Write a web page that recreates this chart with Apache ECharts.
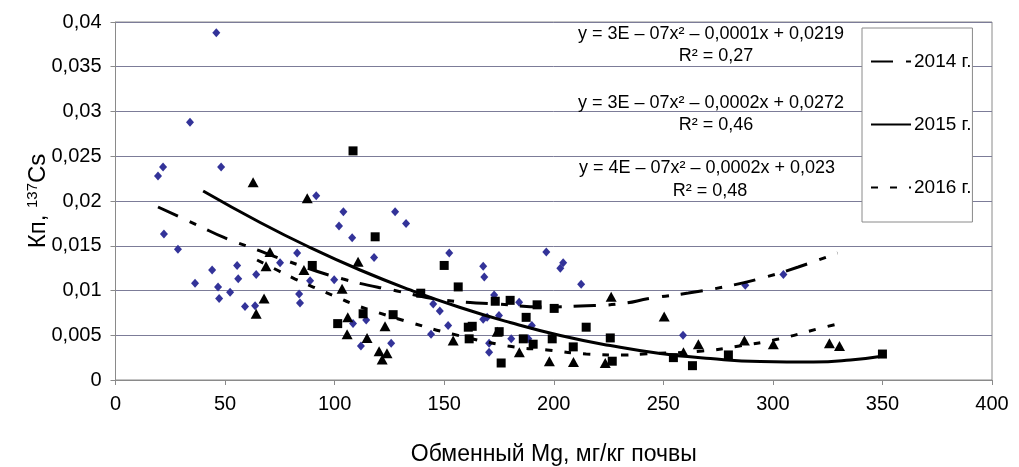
<!DOCTYPE html>
<html><head><meta charset="utf-8">
<script src="https://cdn.jsdelivr.net/npm/echarts@6/dist/echarts.min.js"></script>
<style>html,body{margin:0;padding:0;background:#fff}#c{width:1019px;height:467px}</style>
</head><body><div id="c"></div>
<script>
const years = ['2014 г.', '2015 г.', '2016 г.'];
const xAxisTitle = 'Обменный Mg, мг/кг почвы';
const yAxisTitle = '{a|Кп, }{s|137}{a|Cs}';
const equations = [
  ['y = 3E – 07x² – 0,0001x + 0,0219', 'R² = 0,27'],
  ['y = 3E – 07x² – 0,0002x + 0,0272', 'R² = 0,46'],
  ['y = 4E – 07x² – 0,0002x + 0,023', 'R² = 0,48']
];
// 2014: blue diamonds
const pts2014 = [
  [19.4,0.0228],[21.7,0.0238],[22.1,0.0163],[28.5,0.0146],[34,0.0288],[36.3,0.0108],
  [44.1,0.0123],[46,0.0388],[46.8,0.0104],[47.3,0.0091],[48.2,0.0238],[52.3,0.0098],
  [55.5,0.0128],[56.0,0.0113],[59.1,0.0082],[63.7,0.0083],[64.2,0.0118],[75.1,0.0131],
  [82.9,0.0142],[83.8,0.0096],[84.2,0.0086],[88.8,0.0111],[91.6,0.0206],[99.8,0.0112],
  [102,0.0172],[104,0.0188],[108,0.0159],[108.4,0.0063],[112,0.0038],[114.4,0.0067],
  [118,0.0137],[125.8,0.0041],[127.6,0.0188],[132.6,0.0175],[144,0.0051],[145,0.0085],
  [148,0.0077],[151.8,0.0061],[152.3,0.0142],[167.8,0.0127],[168.3,0.0115],[167.8,0.0068],
  [169.6,0.0070],[170.5,0.0041],[170.5,0.0031],[172.8,0.0095],[175,0.0072],[180.6,0.0046],
  [184.2,0.0087],[188.4,0.0046],[190,0.0061],[196.6,0.0143],[203,0.0125],[204.3,0.0131],
  [212.5,0.0107],[259,0.0050],[287.4,0.0106],[304.8,0.0118]
];
// 2015: black squares
const pts2015 = [
  [89.8,0.0128],[101.4,0.0063],[108.4,0.0256],[113,0.0074],[118.5,0.0160],[126.7,0.0073],
  [139.3,0.0097],[150,0.0128],[156.4,0.0104],[161,0.0059],[162.8,0.0060],[161.4,0.0046],
  [173.3,0.0088],[175.1,0.0054],[176,0.0019],[180.1,0.0089],[186.1,0.0046],[187.4,0.0070],
  [190.6,0.0040],[192.4,0.0084],[199.3,0.0046],[200.2,0.0080],[208.9,0.0037],[214.8,0.0059],
  [225.8,0.0047],[226.7,0.0021],[254.6,0.0025],[263.3,0.0016],[279.7,0.0028],[350,0.0029]
];
// 2016: black triangles
const pts2016 = [
  [62.8,0.0221],[64.2,0.0074],[67.8,0.0091],[68.7,0.0127],[70.5,0.0143],[86,0.0123],
  [87.5,0.0203],[103.4,0.0102],[105.7,0.0051],[106,0.0070],[110.7,0.0132],[114.8,0.0047],
  [120.3,0.0032],[121.7,0.0023],[123,0.0060],[123.9,0.0030],[154.1,0.0044],[174.2,0.0054],
  [184.3,0.0031],[198,0.0021],[209,0.0020],[223.5,0.0019],[226.2,0.0093],[250.4,0.0071],
  [259.2,0.0031],[266,0.0040],[287,0.0044],[300.2,0.0040],[325.8,0.0041],[330.4,0.0038]
];
// trend lines
const trend2014 = [
  [19.4,0.01933],[37.2,0.01732],[50.0,0.01587],[62.3,0.01475],[78.3,0.01330],[103.9,0.01128],
  [128.5,0.00994],[149.5,0.00894],[174.2,0.00849],[196.1,0.00816],[212.1,0.00827],[229.5,0.00849],
  [245.0,0.00916],[261.4,0.00972],[279.7,0.01050],[295.2,0.01140],[311.6,0.01263],[329.5,0.01419]
];
const trend2015 = [
  [40.0,0.02112],[66.0,0.01760],[88.8,0.01480],[111.6,0.01229],[134.5,0.01006],[157.3,0.00810],
  [180.1,0.00642],[203.0,0.00497],[225.8,0.00385],[248.6,0.00296],[271.5,0.00240],[294.3,0.00207],
  [318.5,0.00201],[335.4,0.00223],[350.5,0.00268]
];
const trend2016 = [
  [64.6,0.01341],[73.7,0.01229],[82.0,0.01128],[90.2,0.01039],[99.8,0.00939],[108.4,0.00849],
  [117.6,0.00771],[135.4,0.00637],[153.7,0.00514],[179.2,0.00380],[197.0,0.00335],[214.8,0.00291],
  [232.2,0.00279],[240.9,0.00291],[267.8,0.00324],[284.7,0.00380],[302.5,0.00458],[320.3,0.00570],
  [329.5,0.00626]
];

const FONT = 'Liberation Sans, Arial, sans-serif';
const chart = echarts.init(document.getElementById('c'), null, {renderer: 'canvas'});

const eqPos = [[711, 34, 716, 56], [711, 103, 716, 125], [707, 168, 710, 191]];
const graphics = [];
equations.forEach((e, i) => {
  const p = eqPos[i];
  graphics.push({type: 'text', x: p[0], y: p[1], z: 50,
    style: {text: e[0], fontSize: 18, fontFamily: FONT, fill: '#000', align: 'center', verticalAlign: 'middle'}});
  graphics.push({type: 'text', x: p[2], y: p[3], z: 50,
    style: {text: e[1], fontSize: 18, fontFamily: FONT, fill: '#000', align: 'center', verticalAlign: 'middle'}});
});

const option = {
  animation: false,
  backgroundColor: '#fff',
  grid: {left: 115.5, right: 27, top: 22, bottom: 87, show: true, borderColor: '#8a8a8a', borderWidth: 1,
         backgroundColor: 'transparent', containLabel: false, outerBoundsMode: 'none'},
  xAxis: {
    type: 'value', min: 0, max: 400, interval: 50,
    name: xAxisTitle, nameLocation: 'middle', nameGap: 63, nameMoveOverlap: false,
    nameTextStyle: {fontSize: 23, fontFamily: FONT, color: '#000'},
    axisLine: {show: true, lineStyle: {color: '#8a8a8a', width: 1}},
    axisTick: {show: true, length: 5, lineStyle: {color: '#8a8a8a'}},
    axisLabel: {fontSize: 20, fontFamily: FONT, color: '#000', margin: 14},
    splitLine: {show: false}
  },
  yAxis: {
    type: 'value', min: 0, max: 0.04, interval: 0.005,
    name: yAxisTitle, nameLocation: 'middle', nameGap: 64, nameRotate: 90, nameMoveOverlap: false,
    nameTextStyle: {fontSize: 24, fontFamily: FONT, color: '#000',
      rich: {a: {fontSize: 24, fontFamily: FONT, color: '#000', lineHeight: 26},
             s: {fontSize: 15, fontFamily: FONT, color: '#000', verticalAlign: 'top', lineHeight: 15}}},
    axisLine: {show: true, lineStyle: {color: '#8a8a8a', width: 1}},
    axisTick: {show: true, length: 5, lineStyle: {color: '#8a8a8a'}},
    axisLabel: {fontSize: 20, fontFamily: FONT, color: '#000', margin: 14,
      formatter: v => v === 0 ? '0' : String(parseFloat(v.toFixed(3))).replace('.', ',')},
    splitLine: {show: true, lineStyle: {color: '#7c7c98', width: 1}}
  },
  legend: {
    orient: 'vertical', left: 862, top: 28,
    data: years,
    itemWidth: 40, itemHeight: 14, itemGap: 44,
    padding: [24, 1, 25, 8],
    backgroundColor: '#fff', borderColor: '#8a8a8a', borderWidth: 1,
    textStyle: {fontSize: 19, fontFamily: FONT, color: '#000', padding: [0, 0, 0, -2]},
    itemStyle: {color: 'transparent', borderWidth: 0, opacity: 0},
    selectedMode: false
  },
  graphic: graphics,
  series: [
    {name: 'pts2014', type: 'scatter', data: pts2014, symbol: 'diamond', symbolSize: [8, 9],
     itemStyle: {color: '#333399', opacity: 1}},
    {name: 'pts2015', type: 'scatter', data: pts2015, symbol: 'rect', symbolSize: 9,
     itemStyle: {color: '#000', opacity: 1}},
    {name: 'pts2016', type: 'scatter', data: pts2016, symbol: 'triangle', symbolSize: [11, 10],
     itemStyle: {color: '#000', opacity: 1}},
    {name: years[0], type: 'line', data: trend2014, smooth: 0.5, symbol: 'none', showSymbol: false,
     lineStyle: {color: '#000', width: 3, type: [22, 13, 7, 12]}, itemStyle: {color: '#000'}},
    {name: years[1], type: 'line', data: trend2015, smooth: 0.5, symbol: 'none', showSymbol: false,
     lineStyle: {color: '#000', width: 3, type: 'solid'}, itemStyle: {color: '#000'}},
    {name: years[2], type: 'line', data: trend2016, smooth: 0.5, symbol: 'none', showSymbol: false,
     lineStyle: {color: '#000', width: 3, type: [7, 12]}, itemStyle: {color: '#000'}}
  ]
};
chart.setOption(option);
</script></body></html>
